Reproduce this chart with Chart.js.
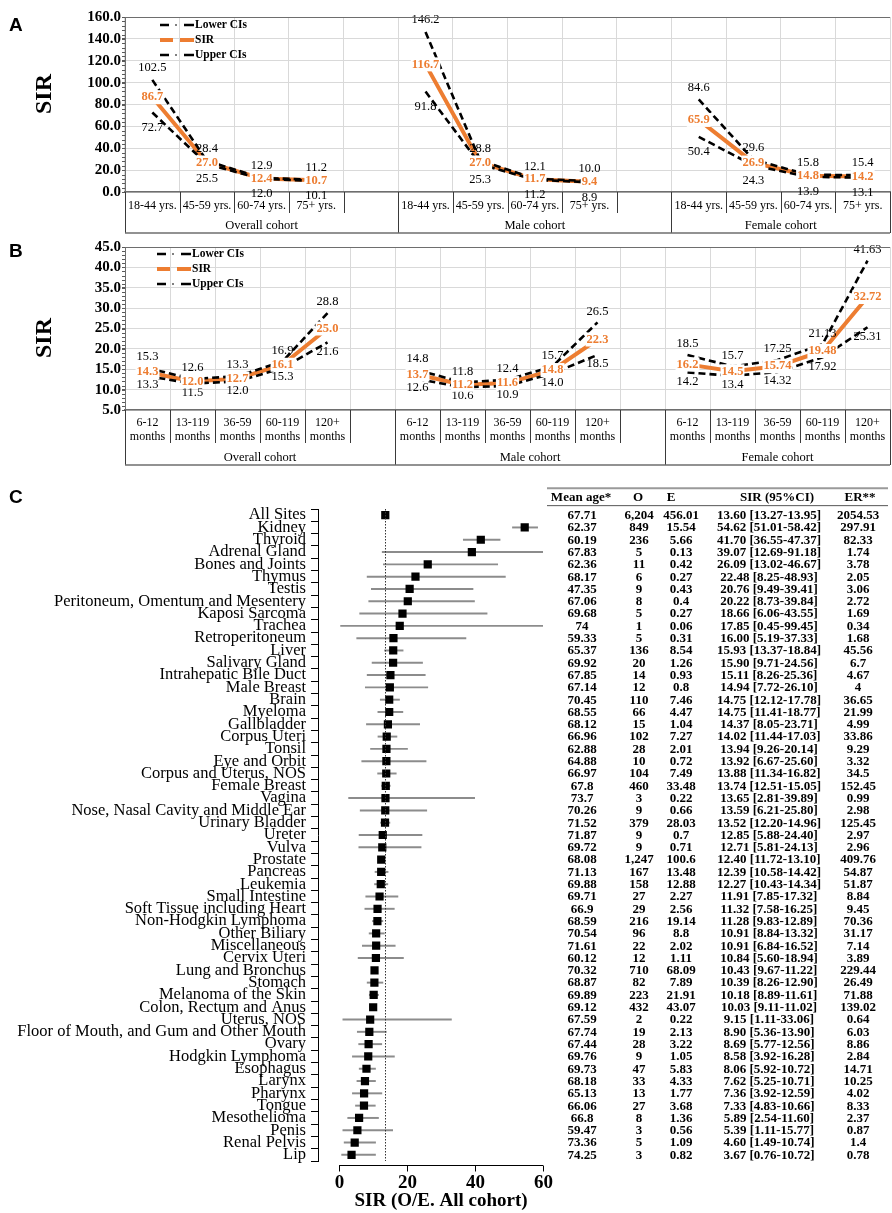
<!DOCTYPE html>
<html>
<head>
<meta charset="utf-8">
<script src="https://cdn.jsdelivr.net/npm/chart.js@4.4.1/dist/chart.umd.min.js"></script>
<style>
  html, body { margin: 0; padding: 0; background: #fff; }
  body { width: 892px; height: 1213px; position: relative; overflow: hidden; }
  .panel { position: absolute; left: 0; width: 892px; }
  #panelA { top: 0; height: 236px; }
  #panelB { top: 236px; height: 236px; }
  #panelC { top: 472px; height: 741px; }
</style>
</head>
<body>
<div class="panel" id="panelA"><canvas id="chartA"></canvas></div>
<div class="panel" id="panelB"><canvas id="chartB"></canvas></div>
<div class="panel" id="panelC"><canvas id="chartC"></canvas></div>
<script>
const SERIF = "'Liberation Serif', 'Times New Roman', serif";
const SANS = "'Liberation Sans', Arial, sans-serif";
const ORANGE = "#ed7d31";

// ---- panel A: SIR by age at diagnosis
const cohorts = ["Overall cohort", "Male cohort", "Female cohort"];
const ageGroups = [["18-44 yrs."], ["45-59 yrs."], ["60-74 yrs."], ["75+ yrs."]];
const ageLower = [72.7, 25.5, 12.0, 10.1, 91.8, 25.3, 11.2, 8.9, 50.4, 24.3, 13.9, 13.1];
const ageSir = [86.7, 27.0, 12.4, 10.7, 116.7, 27.0, 11.7, 9.4, 65.9, 26.9, 14.8, 14.2];
const ageUpper = [102.5, 28.4, 12.9, 11.2, 146.2, 28.8, 12.1, 10.0, 84.6, 29.6, 15.8, 15.4];
const ageTicks = [0, 20, 40, 60, 80, 100, 120, 140, 160];

// ---- panel B: SIR by latency
const latencyGroups = [["6-12", "months"], ["13-119", "months"], ["36-59", "months"], ["60-119", "months"], ["120+", "months"]];
const latLower = [13.3, 11.5, 12.0, 15.3, 21.6, 12.6, 10.6, 10.9, 14.0, 18.5, 14.2, 13.4, 14.32, 17.92, 25.31];
const latSir = [14.3, 12.0, 12.7, 16.1, 25.0, 13.7, 11.2, 11.6, 14.8, 22.3, 16.2, 14.5, 15.74, 19.48, 32.72];
const latUpper = [15.3, 12.6, 13.3, 16.9, 28.8, 14.8, 11.8, 12.4, 15.7, 26.5, 18.5, 15.7, 17.25, 21.13, 41.63];
const latTicks = [5, 10, 15, 20, 25, 30, 35, 40, 45];

// ---- panel C: SIR by site
const sites = ["All Sites", "Kidney", "Thyroid", "Adrenal Gland", "Bones and Joints", "Thymus", "Testis",
  "Peritoneum, Omentum and Mesentery", "Kaposi Sarcoma", "Trachea", "Retroperitoneum", "Liver", "Salivary Gland",
  "Intrahepatic Bile Duct", "Male Breast", "Brain", "Myeloma", "Gallbladder", "Corpus Uteri", "Tonsil",
  "Eye and Orbit", "Corpus and Uterus, NOS", "Female Breast", "Vagina", "Nose, Nasal Cavity and Middle Ear",
  "Urinary Bladder", "Ureter", "Vulva", "Prostate", "Pancreas", "Leukemia", "Small Intestine",
  "Soft Tissue including Heart", "Non-Hodgkin Lymphoma", "Other Biliary", "Miscellaneous", "Cervix Uteri",
  "Lung and Bronchus", "Stomach", "Melanoma of the Skin", "Colon, Rectum and Anus", "Uterus, NOS",
  "Floor of Mouth, and Gum and Other Mouth", "Ovary", "Hodgkin Lymphoma", "Esophagus", "Larynx", "Pharynx",
  "Tongue", "Mesothelioma", "Penis", "Renal Pelvis", "Lip"];
const meanAge = [67.71, 62.37, 60.19, 67.83, 62.36, 68.17, 47.35, 67.06, 69.68, 74, 59.33, 65.37, 69.92, 67.85,
  67.14, 70.45, 68.55, 68.12, 66.96, 62.88, 64.88, 66.97, 67.8, 73.7, 70.26, 71.52, 71.87, 69.72, 68.08, 71.13,
  69.88, 69.71, 66.9, 68.59, 70.54, 71.61, 60.12, 70.32, 68.87, 69.89, 69.12, 67.59, 67.74, 67.44, 69.76, 69.73,
  68.18, 65.13, 66.06, 66.8, 59.47, 73.36, 74.25];
const observed = [6204, 849, 236, 5, 11, 6, 9, 8, 5, 1, 5, 136, 20, 14, 12, 110, 66, 15, 102, 28, 10, 104, 460, 3,
  9, 379, 9, 9, 1247, 167, 158, 27, 29, 216, 96, 22, 12, 710, 82, 223, 432, 2, 19, 28, 9, 47, 33, 13, 27, 8, 3, 5, 3];
const expected = [456.01, 15.54, 5.66, 0.13, 0.42, 0.27, 0.43, 0.4, 0.27, 0.06, 0.31, 8.54, 1.26, 0.93, 0.8, 7.46,
  4.47, 1.04, 7.27, 2.01, 0.72, 7.49, 33.48, 0.22, 0.66, 28.03, 0.7, 0.71, 100.6, 13.48, 12.88, 2.27, 2.56, 19.14,
  8.8, 2.02, 1.11, 68.09, 7.89, 21.91, 43.07, 0.22, 2.13, 3.22, 1.05, 5.83, 4.33, 1.77, 3.68, 1.36, 0.56, 1.09, 0.82];
const sirValues = [13.60, 54.62, 41.70, 39.07, 26.09, 22.48, 20.76, 20.22, 18.66, 17.85, 16.00, 15.93, 15.90, 15.11,
  14.94, 14.75, 14.75, 14.37, 14.02, 13.94, 13.92, 13.88, 13.74, 13.65, 13.59, 13.52, 12.85, 12.71, 12.40, 12.39,
  12.27, 11.91, 11.32, 11.28, 10.91, 10.91, 10.84, 10.43, 10.39, 10.18, 10.03, 9.15, 8.90, 8.69, 8.58, 8.06, 7.62,
  7.36, 7.33, 5.89, 5.39, 4.60, 3.67];
const ciLower = [13.27, 51.01, 36.55, 12.69, 13.02, 8.25, 9.49, 8.73, 6.06, 0.45, 5.19, 13.37, 9.71, 8.26, 7.72,
  12.12, 11.41, 8.05, 11.44, 9.26, 6.67, 11.34, 12.51, 2.81, 6.21, 12.20, 5.88, 5.81, 11.72, 10.58, 10.43, 7.85,
  7.58, 9.83, 8.84, 6.84, 5.60, 9.67, 8.26, 8.89, 9.11, 1.11, 5.36, 5.77, 3.92, 5.92, 5.25, 3.92, 4.83, 2.54, 1.11,
  1.49, 0.76];
const ciUpper = [13.95, 58.42, 47.37, 91.18, 46.67, 48.93, 39.41, 39.84, 43.55, 99.45, 37.33, 18.84, 24.56, 25.36,
  26.10, 17.78, 18.77, 23.71, 17.03, 20.14, 25.60, 16.82, 15.05, 39.89, 25.80, 14.96, 24.40, 24.13, 13.10, 14.42,
  14.34, 17.32, 16.25, 12.89, 13.32, 16.52, 18.94, 11.22, 12.90, 11.61, 11.02, 33.06, 13.90, 12.56, 16.28, 10.72,
  10.71, 12.59, 10.66, 11.60, 15.77, 10.74, 10.72];
const excessRisk = [2054.53, 297.91, 82.33, 1.74, 3.78, 2.05, 3.06, 2.72, 1.69, 0.34, 1.68, 45.56, 6.7, 4.67, 4,
  36.65, 21.99, 4.99, 33.86, 9.29, 3.32, 34.5, 152.45, 0.99, 2.98, 125.45, 2.97, 2.96, 409.76, 54.87, 51.87, 8.84,
  9.45, 70.36, 31.17, 7.14, 3.89, 229.44, 26.49, 71.88, 139.02, 0.64, 6.03, 8.86, 2.84, 14.71, 10.25, 4.02, 8.33,
  2.37, 0.87, 1.4, 0.78];
const forestTicks = [0, 20, 40, 60];

function fmtValue(v) {
  const tenth = v * 10;
  return Math.abs(tenth - Math.round(tenth)) < 1e-6 ? v.toFixed(1) : v.toFixed(2);
}

// lay the per-cohort values out along the axis, with one empty slot between cohorts
function spread(values, perCohort, blank) {
  const out = [];
  cohorts.forEach((c, i) => {
    out.push(...values.slice(i * perCohort, (i + 1) * perCohort));
    if (i < cohorts.length - 1) out.push(blank);
  });
  return out;
}

// Excel style multi level axis, legend, minor ticks, letter and title
const excelAxis = {
  id: "excelAxis",
  afterDraw(chart, args, o) {
    const { ctx, chartArea: { left, right, top, bottom }, scales: { y } } = chart;
    const labels = chart.data.labels;
    const n = labels.length;
    const slot = (right - left) / n;
    ctx.save();

    // top frame line
    ctx.strokeStyle = "#6e6e6e";
    ctx.lineWidth = 1.2;
    ctx.beginPath(); ctx.moveTo(left, top + 0.5); ctx.lineTo(right, top + 0.5); ctx.stroke();

    // minor ticks
    ctx.strokeStyle = "#595959";
    ctx.lineWidth = 1;
    for (let v = y.min; v <= y.max + 1e-9; v += o.minorStep) {
      const py = Math.round(y.getPixelForValue(v)) + 0.5;
      ctx.beginPath(); ctx.moveTo(left - 3, py); ctx.lineTo(left, py); ctx.stroke();
    }

    // category labels and separators
    ctx.fillStyle = "#000";
    ctx.textAlign = "center";
    ctx.textBaseline = "middle";
    ctx.font = "12px " + SERIF;
    labels.forEach((lab, i) => {
      if (!lab) return;
      const cx = left + (i + 0.5) * slot;
      lab.forEach((line, j) => ctx.fillText(line, cx, bottom + o.labelY + j * o.lineStep));
    });
    const edges = [0];
    cohorts.forEach((c, i) => {
      const per = (labels.length - (cohorts.length - 1)) / cohorts.length;
      edges.push(edges[i] + per + (i < cohorts.length - 1 ? 1 : 0));
    });
    ctx.strokeStyle = "#3a3a3a";
    ctx.lineWidth = 1;
    for (let k = 0; k <= n; k++) {
      const px = Math.round(left + k * slot) + 0.5;
      const depth = edges.includes(k) ? o.boxDepth : o.tickDepth;
      ctx.beginPath(); ctx.moveTo(px, bottom); ctx.lineTo(px, bottom + depth); ctx.stroke();
    }
    ctx.strokeStyle = "#6e6e6e";
    ctx.lineWidth = 1.5;
    ctx.beginPath(); ctx.moveTo(left, bottom + o.boxDepth); ctx.lineTo(right, bottom + o.boxDepth); ctx.stroke();
    ctx.font = "12.5px " + SERIF;
    cohorts.forEach((c, i) => {
      const cx = left + ((edges[i] + edges[i + 1]) / 2) * slot;
      ctx.fillText(c, cx, bottom + o.cohortY);
    });

    // legend
    const order = ["lower", "sir", "upper"];
    ctx.font = "bold 11.5px " + SERIF;
    ctx.textAlign = "left";
    order.forEach((role, i) => {
      const ds = chart.data.datasets.find(d => d.role === role);
      const ly = o.legendY + i * 15;
      const lx = o.legendX;
      ctx.save();
      if (role === "sir") {
        ctx.strokeStyle = ORANGE; ctx.lineWidth = 4;
        ctx.beginPath(); ctx.moveTo(lx, ly); ctx.lineTo(lx + 13, ly);
        ctx.moveTo(lx + 20, ly); ctx.lineTo(lx + 34, ly); ctx.stroke();
      } else {
        ctx.strokeStyle = "#000"; ctx.lineWidth = 2.5;
        ctx.beginPath(); ctx.moveTo(lx, ly); ctx.lineTo(lx + 9, ly);
        ctx.moveTo(lx + 24, ly); ctx.lineTo(lx + 34, ly); ctx.stroke();
        ctx.lineWidth = 1;
        ctx.beginPath(); ctx.moveTo(lx + 15, ly); ctx.lineTo(lx + 17, ly); ctx.stroke();
      }
      ctx.restore();
      ctx.fillText(ds.label, lx + 35, ly + 0.5);
    });

    // panel letter and axis title
    ctx.font = "bold 19px " + SANS;
    ctx.fillText(o.letter, 9, o.letterY);
    ctx.translate(45, o.titleY);
    ctx.rotate(-Math.PI / 2);
    ctx.textAlign = "center";
    ctx.font = "bold 24px " + SERIF;
    ctx.fillText("SIR", 0, 0);
    ctx.restore();
  },
};

const pointLabels = {
  id: "pointLabels",
  afterDatasetsDraw(chart, args, o) {
    const ctx = chart.ctx;
    ctx.save();
    ctx.textAlign = "center";
    ctx.textBaseline = "middle";
    chart.data.datasets.forEach((ds, di) => {
      const meta = chart.getDatasetMeta(di);
      meta.data.forEach((pt, i) => {
        const v = ds.data[i];
        if (v == null) return;
        const text = fmtValue(v);
        if (ds.role === "sir") {
          ctx.font = "bold 12.5px " + SERIF;
          const w = ctx.measureText(text).width;
          ctx.fillStyle = "#fff";
          ctx.fillRect(pt.x - w / 2 - 1, pt.y - 7, w + 2, 14);
          ctx.fillStyle = ORANGE;
          ctx.fillText(text, pt.x, pt.y);
        } else {
          ctx.font = "12.5px " + SERIF;
          ctx.fillStyle = "#000";
          const dy = ds.role === "upper" ? -o.upGap : o.downGap;
          ctx.fillText(text, pt.x, pt.y + dy);
        }
      });
    });
    ctx.restore();
  },
};

function linePanel(canvasId, p) {
  const per = p.groups.length;
  const labels = spread(cohorts.flatMap(() => p.groups), per, "");
  const ciLine = { borderColor: "#000", borderWidth: 2.6, borderDash: [7, 4], pointRadius: 0 };
  return new Chart(document.getElementById(canvasId), {
    type: "line",
    data: {
      labels: labels,
      datasets: [
        Object.assign({ label: "Lower CIs", role: "lower", data: spread(p.lower, per, null) }, ciLine),
        Object.assign({ label: "Upper CIs", role: "upper", data: spread(p.upper, per, null) }, ciLine),
        { label: "SIR", role: "sir", data: spread(p.sir, per, null), borderColor: ORANGE, borderWidth: 4, pointRadius: 0 },
      ],
    },
    options: {
      responsive: true,
      maintainAspectRatio: false,
      animation: false,
      layout: { padding: { top: p.padTop, right: 2, left: 0, bottom: 0 } },
      scales: {
        x: {
          offset: true,
          grid: { offset: true, color: "#d9d9d9", drawTicks: false },
          border: { color: "#6e6e6e", width: 1.5 },
          ticks: { display: false },
          afterFit: s => { s.height = p.axisHeight; },
        },
        y: {
          min: p.ticks[0],
          max: p.ticks[p.ticks.length - 1],
          afterBuildTicks: s => { s.ticks = p.ticks.map(v => ({ value: v })); },
          grid: { color: "#d9d9d9", tickLength: 3, tickColor: "#595959" },
          border: { color: "#6e6e6e" },
          ticks: {
            autoSkip: false,
            color: "#000",
            padding: 1,
            font: { family: SERIF, weight: "bold", size: 15 },
            callback: v => Number(v).toFixed(1),
          },
          afterFit: s => { s.width = 125; },
        },
      },
      plugins: {
        legend: { display: false },
        tooltip: { enabled: false },
        excelAxis: p.axis,
        pointLabels: p.pointLabels,
      },
    },
    plugins: [excelAxis, pointLabels],
  });
}

linePanel("chartA", {
  groups: ageGroups, lower: ageLower, sir: ageSir, upper: ageUpper, ticks: ageTicks,
  padTop: 17, axisHeight: 44,
  axis: { minorStep: 4, labelY: 14, lineStep: 14, tickDepth: 21, boxDepth: 41, cohortY: 34,
          legendX: 160, legendY: 25, letter: "A", letterY: 26, titleY: 94 },
  pointLabels: { upGap: 12, downGap: 15 },
});

linePanel("chartB", {
  groups: latencyGroups, lower: latLower, sir: latSir, upper: latUpper, ticks: latTicks,
  padTop: 11, axisHeight: 62,
  axis: { minorStep: 1, labelY: 13, lineStep: 14, tickDepth: 33, boxDepth: 55, cohortY: 48,
          legendX: 157, legendY: 18, letter: "B", letterY: 16, titleY: 102 },
  pointLabels: { upGap: 11, downGap: 9 },
});

// ---- forest plot with table
const forestExtras = {
  id: "forestExtras",
  afterDraw(chart) {
    const { ctx, chartArea: { top, bottom }, scales: { x, y } } = chart;
    ctx.save();
    // reference line at the all-sites SIR
    const rx = Math.round(x.getPixelForValue(sirValues[0])) + 0.5;
    ctx.strokeStyle = "#333";
    ctx.lineWidth = 1;
    ctx.setLineDash([1.5, 1.5]);
    ctx.beginPath(); ctx.moveTo(rx, top); ctx.lineTo(rx, bottom); ctx.stroke();
    ctx.setLineDash([]);

    // x axis, R style
    const ay = bottom + 4.5;
    const x0 = x.getPixelForValue(forestTicks[0]);
    const x1 = x.getPixelForValue(forestTicks[forestTicks.length - 1]);
    ctx.strokeStyle = "#000";
    ctx.beginPath(); ctx.moveTo(x0, ay); ctx.lineTo(x1, ay); ctx.stroke();
    ctx.fillStyle = "#000";
    ctx.textAlign = "center";
    ctx.textBaseline = "middle";
    ctx.font = "bold 19px " + SERIF;
    forestTicks.forEach(t => {
      const px = Math.round(x.getPixelForValue(t)) + 0.5;
      ctx.beginPath(); ctx.moveTo(px, ay); ctx.lineTo(px, ay + 6); ctx.stroke();
      ctx.fillText(String(t), px, bottom + 22);
    });
    ctx.fillText("SIR (O/E. All cohort)", (x0 + x1) / 2, bottom + 40);

    // panel letter
    ctx.textAlign = "left";
    ctx.font = "bold 19px " + SANS;
    ctx.fillText("C", 9, 26);

    // table
    const cols = [582, 639, 681, 769, 858];
    const heads = [["Mean age*", 581], ["O", 638], ["E", 671], ["SIR (95%CI)", 777], ["ER**", 860]];
    const y0 = y.getPixelForValue(0);
    ctx.strokeStyle = "#9a9a9a";
    ctx.lineWidth = 2;
    ctx.beginPath(); ctx.moveTo(547, y0 - 27); ctx.lineTo(888, y0 - 27); ctx.stroke();
    ctx.strokeStyle = "#555";
    ctx.lineWidth = 1;
    ctx.beginPath(); ctx.moveTo(547, y0 - 9.5); ctx.lineTo(888, y0 - 9.5); ctx.stroke();
    ctx.textAlign = "center";
    ctx.font = "bold 13px " + SERIF;
    heads.forEach(([h, hx]) => ctx.fillText(h, hx, y0 - 18));
    sites.forEach((s, i) => {
      const py = y.getPixelForValue(i);
      const cells = [
        String(meanAge[i]),
        observed[i].toLocaleString("en-US"),
        String(expected[i]),
        sirValues[i].toFixed(2) + " [" + ciLower[i].toFixed(2) + "-" + ciUpper[i].toFixed(2) + "]",
        String(excessRisk[i]),
      ];
      cells.forEach((c, k) => ctx.fillText(c, cols[k], py + 0.5));
    });
    ctx.restore();
  },
};

new Chart(document.getElementById("chartC"), {
  type: "bar",
  data: {
    labels: sites,
    datasets: [
      {
        type: "line",
        indexAxis: "y",
        data: sirValues,
        showLine: false,
        pointStyle: "rect",
        pointRadius: 5.8,
        pointBackgroundColor: "#000",
        pointBorderWidth: 0,
        order: 0,
      },
      {
        type: "bar",
        data: sites.map((s, i) => [ciLower[i], ciUpper[i]]),
        backgroundColor: "#8c8c8c",
        barThickness: 1.3,
        order: 1,
      },
    ],
  },
  options: {
    indexAxis: "y",
    responsive: true,
    maintainAspectRatio: false,
    animation: false,
    layout: { padding: { top: 37, right: 349, left: 0, bottom: 0 } },
    scales: {
      x: {
        type: "linear",
        min: -6.2,
        max: 60,
        grid: { display: false },
        border: { display: false },
        ticks: { display: false },
        afterFit: s => { s.height = 52; },
      },
      y: {
        type: "category",
        offset: true,
        grid: { drawOnChartArea: false, tickLength: 7, tickColor: "#000" },
        border: { color: "#000", width: 1 },
        ticks: { autoSkip: false, color: "#000", padding: 5, font: { family: SERIF, size: 16.5 } },
        afterFit: s => { s.width = 318; },
      },
    },
    plugins: { legend: { display: false }, tooltip: { enabled: false } },
  },
  plugins: [forestExtras],
});
</script>
</body>
</html>
